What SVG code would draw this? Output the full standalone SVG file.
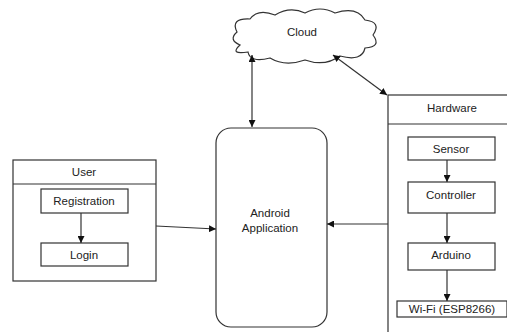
<svg xmlns="http://www.w3.org/2000/svg" width="507" height="332" viewBox="0 0 507 332">
<style>
.box{fill:#fff;stroke:#333;stroke-width:1.2}
.ln{stroke:#333;stroke-width:1.2;fill:none}
text{font-family:"Liberation Sans",Arial,sans-serif;font-size:11.5px;fill:#222;text-anchor:middle}
</style>
<defs>
<marker id="ah" viewBox="0 0 10 10" refX="10" refY="5" markerWidth="7" markerHeight="7" markerUnits="userSpaceOnUse" orient="auto-start-reverse">
<path d="M0,0 L10,5 L0,10 z" fill="#111"/>
</marker>
</defs>
<rect width="507" height="332" fill="#fff"/>
<g id="cloud">
<path class="box" d="M240 45 Q228 40 237 32 Q230 18 250 19 Q258 8 275 15 Q290 6 305 13 Q320 5 335 13 Q357 6 365 20 Q382 22 373 35 Q382 47 365 48 Q362 62 340 56 Q325 67 305 60 Q285 67 270 58 Q250 63 248 52 Q229 55 240 45 Z"/>
<text x="302" y="36">Cloud</text>
</g>
<g id="android">
<rect class="box" x="216" y="128" width="111" height="199" rx="15"/>
<text x="270" y="217">Android</text>
<text x="270" y="232">Application</text>
</g>
<g id="user">
<rect class="box" x="13" y="160" width="143" height="121"/>
<line class="ln" x1="13" y1="184" x2="156" y2="184"/>
<text x="84" y="176">User</text>
</g>
<g id="registration">
<rect class="box" x="41" y="189" width="87" height="24"/>
<text x="84" y="205">Registration</text>
</g>
<g id="login">
<rect class="box" x="41" y="243" width="87" height="23"/>
<text x="84" y="259">Login</text>
</g>
<g id="hardware">
<rect class="box" x="388" y="95" width="130" height="250"/>
<line class="ln" x1="388" y1="124" x2="507" y2="124"/>
<text x="452" y="112">Hardware</text>
</g>
<g id="sensor">
<rect class="box" x="408" y="137" width="87" height="23"/>
<text x="451" y="153">Sensor</text>
</g>
<g id="controller">
<rect class="box" x="408" y="182" width="87" height="31"/>
<text x="451" y="199">Controller</text>
</g>
<g id="arduino">
<rect class="box" x="408" y="243" width="87" height="27"/>
<text x="451" y="259">Arduino</text>
</g>
<g id="wifi">
<rect class="box" x="397" y="301" width="110" height="16"/>
<text x="452" y="313">Wi-Fi (ESP8266)</text>
</g>
<g id="connectors">
<line class="ln" x1="252" y1="55" x2="252" y2="127" marker-start="url(#ah)" marker-end="url(#ah)"/>
<line class="ln" x1="333" y1="55" x2="387" y2="95" marker-start="url(#ah)" marker-end="url(#ah)"/>
<line class="ln" x1="388" y1="224" x2="327" y2="224" marker-end="url(#ah)"/>
<line class="ln" x1="156" y1="226" x2="216" y2="229" marker-end="url(#ah)"/>
<line class="ln" x1="81" y1="213" x2="81" y2="243" marker-end="url(#ah)"/>
<line class="ln" x1="447" y1="160" x2="447" y2="182" marker-end="url(#ah)"/>
<line class="ln" x1="447" y1="213" x2="447" y2="243" marker-end="url(#ah)"/>
<line class="ln" x1="447" y1="270" x2="447" y2="301" marker-end="url(#ah)"/>
</g>
</svg>
